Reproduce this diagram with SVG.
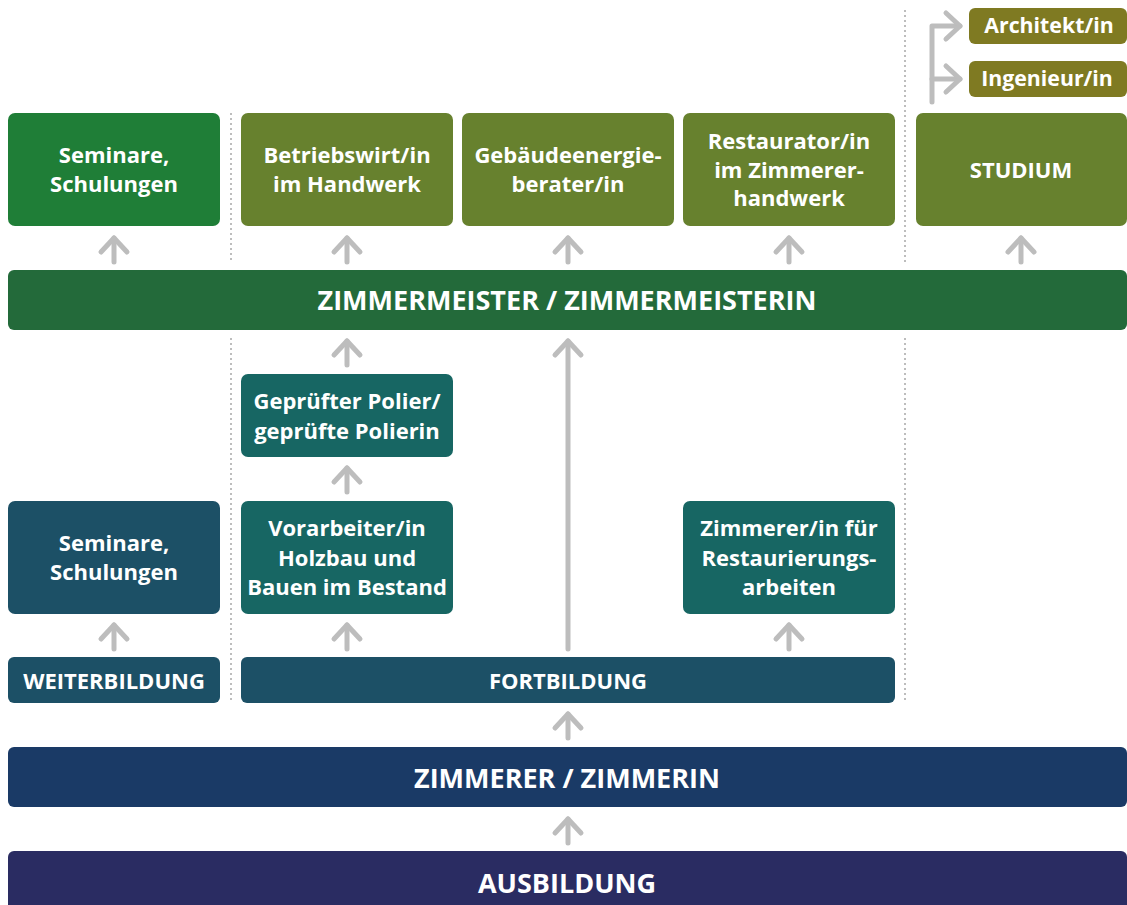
<svg xmlns="http://www.w3.org/2000/svg" width="1127" height="905" viewBox="0 0 1127 905">
<defs>
<marker id="chev" markerUnits="userSpaceOnUse" markerWidth="40" markerHeight="40" refX="0" refY="0" viewBox="-20 -20 40 40" orient="auto" overflow="visible">
<path d="M-14,-13 L0,0 L-14,13" fill="none" stroke="#bdbdbd" stroke-width="5" stroke-linecap="round" stroke-linejoin="round"/>
</marker>
</defs>
<style>
text{font-family:"Open Sans","Noto Sans","Liberation Sans",sans-serif;font-weight:700;fill:#fff;text-anchor:middle}
.t{font-size:22px}
.s{font-size:21.3px}
.b{font-size:27px}
.arr{fill:none;stroke:#bdbdbd;stroke-width:5;stroke-linecap:round;stroke-linejoin:round;marker-end:url(#chev)}
.dot{stroke:#bdbdbd;stroke-width:2;stroke-dasharray:2 3}
</style>
<rect width="1127" height="905" fill="#fff"/>
<g id="dividers">
<line class="dot" x1="231" y1="113" x2="231" y2="262"/>
<line class="dot" x1="231" y1="338" x2="231" y2="703"/>
<line class="dot" x1="905" y1="10" x2="905" y2="262"/>
<line class="dot" x1="905" y1="338" x2="905" y2="703"/>
</g>
<g id="connectors">
<line class="arr" x1="114" y1="262" x2="114" y2="238"/>
<line class="arr" x1="347" y1="262" x2="347" y2="238"/>
<line class="arr" x1="568" y1="262" x2="568" y2="238"/>
<line class="arr" x1="789" y1="262" x2="789" y2="238"/>
<line class="arr" x1="1021" y1="262" x2="1021" y2="238"/>
<line class="arr" x1="347" y1="365" x2="347" y2="341"/>
<line class="arr" x1="347" y1="492" x2="347" y2="468"/>
<line class="arr" x1="114" y1="649" x2="114" y2="625"/>
<line class="arr" x1="347" y1="649" x2="347" y2="625"/>
<line class="arr" x1="568" y1="649" x2="568" y2="341"/>
<line class="arr" x1="789" y1="649" x2="789" y2="625"/>
<line class="arr" x1="568" y1="738" x2="568" y2="714"/>
<line class="arr" x1="568" y1="843" x2="568" y2="819"/>
<path class="arr" d="M932,102 L932,26 L960,26"/>
<path class="arr" d="M932,79 L960,79"/>
</g>
<g id="architekt"><rect x="969" y="8" width="158" height="36" rx="6" fill="#7f7a22"/><text class="s" x="1049" y="33">Architekt/in</text></g>
<g id="ingenieur"><rect x="969" y="61" width="158" height="36" rx="6" fill="#7f7a22"/><text class="s" x="1047" y="86">Ingenieur/in</text></g>
<g id="seminare-top"><rect x="8" y="113" width="212" height="113" rx="7" fill="#1f7e37"/><text class="t" x="114" y="163">Seminare,</text><text class="t" x="114" y="192">Schulungen</text></g>
<g id="betriebswirt"><rect x="241" y="113" width="212" height="113" rx="7" fill="#67812e"/><text class="t" x="347" y="163">Betriebswirt/in</text><text class="t" x="347" y="192">im Handwerk</text></g>
<g id="gebaeude"><rect x="462" y="113" width="212" height="113" rx="7" fill="#67812e"/><text class="t" x="568" y="163">Gebäudeenergie-</text><text class="t" x="568" y="192">berater/in</text></g>
<g id="restaurator"><rect x="683" y="113" width="212" height="113" rx="7" fill="#67812e"/><text class="t" x="789" y="149">Restaurator/in</text><text class="t" x="789" y="178">im Zimmerer-</text><text class="t" x="789" y="206">handwerk</text></g>
<g id="studium"><rect x="916" y="113" width="211" height="113" rx="7" fill="#67812e"/><text class="t" x="1021" y="178">STUDIUM</text></g>
<g id="zimmermeister"><rect x="8" y="270" width="1119" height="60" rx="6" fill="#236a3a"/><text class="b" x="567" y="310">ZIMMERMEISTER / ZIMMERMEISTERIN</text></g>
<g id="polier"><rect x="241" y="374" width="212" height="83" rx="7" fill="#176663"/><text class="t" x="347" y="409">Geprüfter Polier/</text><text class="t" x="347" y="439">geprüfte Polierin</text></g>
<g id="seminare-low"><rect x="8" y="501" width="212" height="113" rx="7" fill="#1c5066"/><text class="t" x="114" y="551">Seminare,</text><text class="t" x="114" y="580">Schulungen</text></g>
<g id="vorarbeiter"><rect x="241" y="501" width="212" height="113" rx="7" fill="#176663"/><text class="t" x="347" y="536">Vorarbeiter/in</text><text class="t" x="347" y="566">Holzbau und</text><text class="t" x="347" y="595">Bauen im Bestand</text></g>
<g id="restaurierung"><rect x="683" y="501" width="212" height="113" rx="7" fill="#176663"/><text class="t" x="789" y="536">Zimmerer/in für</text><text class="t" x="789" y="566">Restaurierungs-</text><text class="t" x="789" y="595">arbeiten</text></g>
<g id="weiterbildung"><rect x="8" y="657" width="212" height="46" rx="6" fill="#1c5066"/><text class="t" x="114" y="689">WEITERBILDUNG</text></g>
<g id="fortbildung"><rect x="241" y="657" width="654" height="46" rx="6" fill="#1c5066"/><text class="t" x="568" y="689">FORTBILDUNG</text></g>
<g id="zimmerer"><rect x="8" y="747" width="1119" height="60" rx="6" fill="#1a3a66"/><text class="b" x="567" y="788">ZIMMERER / ZIMMERIN</text></g>
<g id="ausbildung"><rect x="8" y="851" width="1119" height="70" rx="6" fill="#2a2c62"/><text class="b" x="567" y="893">AUSBILDUNG</text></g>
</svg>
